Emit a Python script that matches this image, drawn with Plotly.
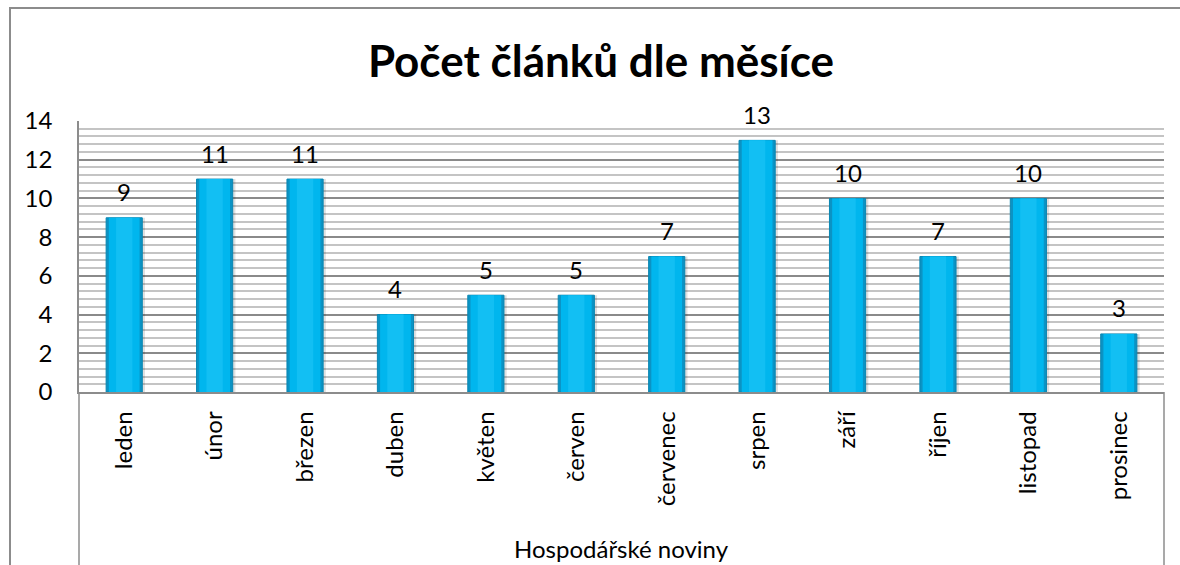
import plotly.graph_objects as go

months = ["leden", "únor", "březen", "duben", "květen", "červen",
          "červenec", "srpen", "září", "říjen", "listopad", "prosinec"]
counts = [9, 11, 11, 4, 5, 5, 7, 13, 10, 7, 10, 3]
group_label = "Hospodářské noviny"
title_text = "Počet článků dle měsíce"
y_ticks = [0, 2, 4, 6, 8, 10, 12, 14]

W, H = 1180, 565
L, R, T, B = 79, 1164, 121, 392

def px_x(px):
    return (px - L) / (R - L)

def px_y(py):
    return (B - py) / (B - T)

FONT = "Lato, 'Noto Sans', sans-serif"

fig = go.Figure()
# shadow
fig.add_trace(go.Bar(x=months, y=counts, width=0.42, offset=-0.19,
                     marker=dict(color="rgba(0,0,0,0.12)", line=dict(width=0)),
                     hoverinfo="skip", showlegend=False))
# outer dark edge
fig.add_trace(go.Bar(x=months, y=counts, width=0.40,
                     marker=dict(color="#0B93C4", line=dict(color="#0A86B2", width=1)),
                     showlegend=False))
# main body
fig.add_trace(go.Bar(x=months, y=counts, width=0.34,
                     marker=dict(color="#00B6EE", line=dict(width=0)),
                     hoverinfo="skip", showlegend=False))
# highlight
fig.add_trace(go.Bar(x=months, y=counts, width=0.18,
                     marker=dict(color="#12BFF3", line=dict(width=0)),
                     hoverinfo="skip", showlegend=False))

for m, v in zip(months, counts):
    fig.add_annotation(x=m, y=v, text=str(v), showarrow=False, yshift=26,
                       font=dict(size=24, color="#000000", family=FONT))

fig.add_annotation(xref="paper", yref="paper", x=0.5, y=px_y(548), text=group_label,
                   showarrow=False, font=dict(size=24, color="#000000", family=FONT),
                   xanchor="center", yanchor="middle")

gray = "#8C8C8C"
shapes = [
    # outer chart border (cropped at right/bottom)
    dict(type="rect", xref="paper", yref="paper", x0=px_x(10), y0=px_y(600),
         x1=px_x(1200), y1=px_y(8), line=dict(color=gray, width=2), layer="below"),
    dict(type="line", xref="paper", yref="paper", x0=0, x1=0, y0=px_y(570), y1=0,
         line=dict(color=gray, width=1.5)),
    dict(type="line", xref="paper", yref="paper", x0=1, x1=1, y0=px_y(570), y1=0,
         line=dict(color=gray, width=1.5)),
]

fig.update_layout(
    width=W, height=H,
    margin=dict(l=L, r=W - R, t=T, b=H - B),
    paper_bgcolor="white", plot_bgcolor="white",
    barmode="overlay",
    bargap=0.6,
    title=dict(text="<b>" + title_text + "</b>", x=601 / W, xref="container", xanchor="center",
               y=1 - 62 / H, yanchor="middle",
               font=dict(size=44, color="#000000", family=FONT)),
    shapes=shapes,
    showlegend=False,
)

fig.update_yaxes(range=[0, 14], tickvals=y_ticks, ticktext=[str(t) for t in y_ticks],
                 showgrid=True, gridcolor="#8A8A8A", gridwidth=1.5,
                 minor=dict(dtick=0.4, showgrid=True, gridcolor="#C4C4C4", gridwidth=1.8),
                 showline=True, linecolor=gray, linewidth=1.5,
                 ticks="", ticklabelstandoff=20, zeroline=False,
                 tickfont=dict(size=24, color="#000000", family=FONT))
fig.update_xaxes(type="category", tickangle=-90, showgrid=False,
                 showline=True, linecolor=gray, linewidth=1.5, ticks="",
                 ticklabelstandoff=8,
                 tickfont=dict(size=24, color="#000000", family=FONT))

fig.write_html("out.html", config={"displayModeBar": False},
               post_script="document.body.style.margin='0px';document.body.style.overflow='hidden';")
